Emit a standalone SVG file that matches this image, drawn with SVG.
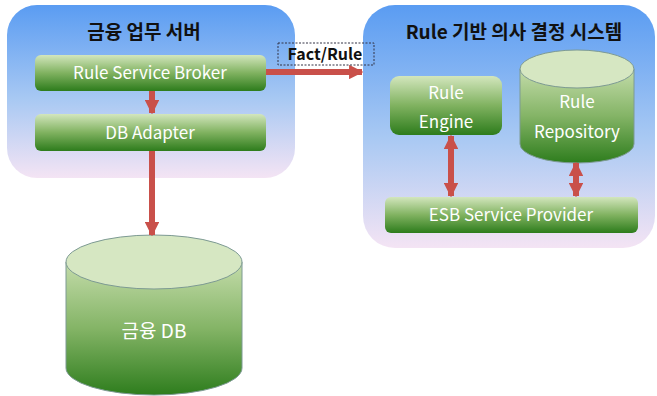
<svg xmlns="http://www.w3.org/2000/svg" width="657" height="396" viewBox="0 0 657 396">
<defs>
<linearGradient id="panel" x1="0" y1="0" x2="0" y2="1">
<stop offset="0" stop-color="#5a9cf2"/>
<stop offset="0.55" stop-color="#a9c9f3"/>
<stop offset="1" stop-color="#f4e4f4"/>
</linearGradient>
<linearGradient id="box" x1="0" y1="0" x2="0" y2="1">
<stop offset="0" stop-color="#d3e6bd"/>
<stop offset="0.5" stop-color="#80b260"/>
<stop offset="1" stop-color="#2d7c1c"/>
</linearGradient>
<linearGradient id="cyl" x1="0" y1="0" x2="0" y2="1">
<stop offset="0" stop-color="#c4dcaa"/>
<stop offset="0.5" stop-color="#84b466"/>
<stop offset="1" stop-color="#2e7d1d"/>
</linearGradient>
<marker id="ah" viewBox="0 0 10 10" refX="9" refY="5" markerWidth="2.4" markerHeight="2.4" orient="auto-start-reverse" markerUnits="strokeWidth">
<path d="M0,0 L10,5 L0,10 z" fill="#c9504a"/>
</marker>
</defs>
<style>
.panel{fill:url(#panel)}
.box{fill:url(#box)}
.cylbody{fill:url(#cyl);stroke:#7d9a93;stroke-width:1}
.cyltop{fill:#d6e7c2;stroke:#7d9a93;stroke-width:1}
.t{font-family:"Noto Sans CJK KR","Noto Sans",sans-serif;fill:#ffffff;font-size:17px;text-anchor:middle}
.title{font-family:"Noto Sans CJK KR","Noto Sans",sans-serif;fill:#111111;font-size:19px;font-weight:bold;text-anchor:middle}
.arr{stroke:#c9504a;stroke-width:6;fill:none}
</style>
<g id="panel-left">
<rect class="panel" x="7" y="5" width="288" height="173" rx="30"/>
<text class="title" x="144" y="39">금융 업무 서버</text>
</g>
<g id="panel-right">
<rect class="panel" x="363" y="5" width="292" height="243" rx="32"/>
<text class="title" x="514" y="39">Rule 기반 의사 결정 시스템</text>
</g>
<g id="rule-service-broker">
<rect class="box" x="35" y="55" width="231" height="36" rx="6"/>
<text class="t" x="150" y="79">Rule Service Broker</text>
</g>
<g id="db-adapter">
<rect class="box" x="35" y="114" width="231" height="37" rx="6"/>
<text class="t" x="150" y="139">DB Adapter</text>
</g>
<g id="rule-engine">
<rect class="box" x="390" y="76" width="112" height="59" rx="9"/>
<text class="t" x="446" y="99">Rule</text>
<text class="t" x="446" y="128">Engine</text>
</g>
<g id="rule-repository">
<path class="cylbody" d="M520,69 L520,144 A57,19 0 0 0 634,144 L634,69 Z"/>
<ellipse class="cyltop" cx="577" cy="69" rx="57" ry="19"/>
<text class="t" x="577" y="108">Rule</text>
<text class="t" x="577" y="138">Repository</text>
</g>
<g id="esb-service-provider">
<rect class="box" x="385" y="197" width="253" height="36" rx="6"/>
<text class="t" x="511" y="221">ESB Service Provider</text>
</g>
<g id="finance-db">
<path class="cylbody" d="M66,262 L66,368 A88,27 0 0 0 242,368 L242,262 Z"/>
<ellipse class="cyltop" cx="154" cy="262" rx="88" ry="27"/>
<text class="t" x="154" y="338" style="font-size:19px">금융 DB</text>
</g>
<g id="connectors">
<line class="arr" x1="152" y1="91" x2="152" y2="113" marker-end="url(#ah)"/>
<line class="arr" x1="152" y1="151" x2="152" y2="235" marker-end="url(#ah)"/>
<line class="arr" x1="266" y1="72" x2="362" y2="72" marker-end="url(#ah)"/>
<line class="arr" x1="451" y1="136" x2="451" y2="196" marker-start="url(#ah)" marker-end="url(#ah)"/>
<line class="arr" x1="576" y1="163" x2="576" y2="196" marker-start="url(#ah)" marker-end="url(#ah)"/>
<rect x="278" y="43" width="96" height="22" fill="none" stroke="#333344" stroke-width="1" stroke-dasharray="2,1.5"/>
<text x="325" y="60" style="font-family:'Noto Sans CJK KR','Noto Sans',sans-serif;font-size:16px;font-weight:bold;fill:#111111;text-anchor:middle">Fact/Rule</text>
</g>
</svg>
